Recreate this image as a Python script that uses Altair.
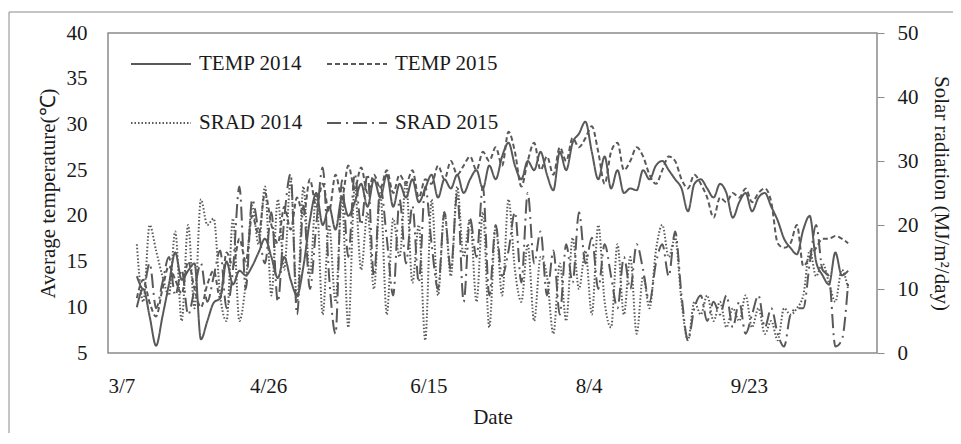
import altair as alt
import pandas as pd

# ---- data, one value every 2 days from 3/16 ----
start_date = "2014-03-16"
temp_2014 = [10.0, 12.0, 9.0, 5.8, 9.0, 12.5, 16.0, 13.0, 14.0, 14.8,
             6.5, 8.5, 10.5, 11.0, 15.0, 12.5, 14.0, 13.5, 14.5, 16.0,
             17.5, 15.5, 13.2, 15.5, 13.0, 11.3, 14.5, 19.5, 22.5, 19.0,
             21.0, 18.5, 22.0, 20.0, 21.5, 23.5, 21.0, 24.0, 22.0, 24.5,
             21.0, 23.5, 22.0, 24.0, 21.5, 23.0, 24.5, 22.0, 24.0, 23.0,
             24.5, 22.5, 24.0, 25.0, 23.0, 25.5, 24.0, 26.5, 28.0, 25.5,
             24.0, 26.0, 25.0, 27.0, 24.5, 22.8, 27.0, 25.0, 28.0, 29.0,
             30.3, 27.0, 24.0, 26.5, 23.0, 25.0, 22.5, 23.0, 22.8, 25.0,
             24.0, 25.5, 26.0, 25.0, 24.0, 23.0, 20.5, 23.5, 24.0, 23.0,
             22.0, 23.5, 22.5, 19.8, 21.5, 22.5, 20.5, 22.0, 22.5, 21.0,
             19.5, 17.5, 16.5, 15.8, 18.5, 20.0, 15.0, 13.5, 12.5, 16.0,
             13.5, 14.0]
temp_2015 = [11.0, 13.0, 10.5, 9.0, 12.0, 14.5, 13.0, 11.5, 15.0, 12.0,
             10.0, 12.5, 14.0, 11.0, 16.0, 14.5, 17.5, 15.0, 20.0, 18.0,
             22.5, 19.0, 17.0, 21.0, 18.5, 22.0, 20.0, 24.0, 21.0, 23.5,
             20.5, 24.5, 22.0, 25.5, 23.0, 25.3, 22.5, 24.5, 23.0, 25.0,
             22.5, 24.5, 23.5, 25.0, 22.0, 24.0, 23.5, 25.5, 24.0, 26.0,
             24.5, 25.5, 26.5, 25.0, 27.0, 26.0, 27.5, 25.5, 29.2, 27.0,
             23.2, 26.0, 28.0, 25.0, 26.5, 24.5, 27.5, 26.0, 28.5, 27.5,
             28.5, 29.8, 27.0, 23.5, 27.0, 28.0, 25.0, 26.0, 27.5, 26.5,
             24.5, 23.5, 25.0, 26.5, 26.0, 24.0, 23.0, 24.5, 23.5, 22.0,
             19.8, 22.0, 21.5, 22.5, 22.0, 23.0, 21.5, 22.5, 23.0, 21.5,
             17.0, 16.5, 17.0, 19.0, 14.5, 15.5, 16.5, 17.5, 17.5, 17.8,
             17.5, 17.0]
srad_2014 = [17, 8, 20, 16, 12, 9, 19, 5, 20, 7,
             24, 20, 21, 9, 5, 21, 5, 11, 23, 17,
             26, 9, 24, 13, 27, 8, 26, 12, 25, 6,
             20, 8, 24, 4, 26, 13, 22, 10, 25, 6,
             21, 15, 27, 11, 20, 2, 24, 9, 22, 12,
             26, 15, 21, 8, 22, 4, 20, 9, 24, 13,
             8, 17, 5, 15, 12, 3, 14, 5, 18, 10,
             16, 6, 20, 8, 4, 17, 6, 15, 3, 12,
             7, 16, 20, 15, 18, 8, 2, 8, 6, 9,
             5, 8, 4, 7, 5, 9, 4, 7, 3, 5,
             2, 7, 6, 7, 9, 16, 12, 14, 11, 8,
             13, 10]
srad_2015 = [12, 10, 14, 7, 11, 15, 9, 13, 6, 10,
             14, 8, 12, 16, 7, 13, 26, 10, 24, 19,
             14, 22, 8, 21, 28, 6, 23, 10, 20, 29,
             12, 3, 27, 15, 28, 20, 28, 12, 26, 18,
             9, 24, 14, 23, 11, 26, 17, 10, 22, 13,
             25, 8, 21, 15, 26, 9, 20, 12, 16, 22,
             11, 25, 14, 19, 9, 16, 6, 17, 11, 22,
             14, 18, 10, 17, 12, 7, 15, 10, 17, 13,
             8, 14, 17, 12, 19, 9, 2, 7, 9, 5,
             8, 6, 9, 4, 8, 3, 6, 9, 4, 7,
             3, 1, 6, 7, 7, 14, 20, 13, 12, 1,
             2, 11]

series_names = ["TEMP 2014", "TEMP 2015", "SRAD 2014", "SRAD 2015"]
x_tick_dates = [(3, 7), (4, 26), (6, 15), (8, 4), (9, 23)]

n = len(temp_2014)
dates = list(pd.date_range(start_date, periods=n, freq="2D"))

temp_df = pd.DataFrame({
    "date": dates + dates,
    "value": temp_2014 + temp_2015,
    "series": ["TEMP 2014"] * n + ["TEMP 2015"] * n,
})
srad_df = pd.DataFrame({
    "date": dates + dates,
    "value": srad_2014 + srad_2015,
    "series": ["SRAD 2014"] * n + ["SRAD 2015"] * n,
})

FONT = "Liberation Serif"
GRAY = "#595959"
FRAME = "#8a8a8a"

dash = alt.StrokeDash(
    "series:N",
    scale=alt.Scale(domain=series_names,
                    range=[[1, 0], [5, 3], [1.5, 2], [14, 5, 2, 5]]),
    legend=alt.Legend(
        title=None, orient="none", legendX=22, legendY=0, columns=2,
        direction="horizontal",
        symbolType="stroke", symbolSize=3600, symbolStrokeWidth=2,
        symbolStrokeColor=GRAY, labelFont=FONT, labelFontSize=21,
        labelColor="#1a1a1a", labelOffset=7, columnPadding=20,
        rowPadding=18, padding=0,
    ),
)

x_enc = alt.X(
    "date:T",
    scale=alt.Scale(domain=[alt.DateTime(year=2014, month=3, date=7),
                            alt.DateTime(year=2014, month=11, date=2)]),
    axis=alt.Axis(
        values=[alt.DateTime(year=2014, month=m, date=d) for m, d in x_tick_dates],
        format="%-m/%-d", title="Date", ticks=False, domain=False, grid=False,
        labelPadding=22, titlePadding=10,
    ),
)

temp_layer = alt.Chart(temp_df).mark_line(
    color=GRAY, strokeWidth=2, interpolate="monotone"
).encode(
    x=x_enc,
    y=alt.Y("value:Q", scale=alt.Scale(domain=[5, 40], nice=False),
            axis=alt.Axis(values=[5, 10, 15, 20, 25, 30, 35, 40],
                          title="Average temperature(℃)", ticks=False,
                          domain=False, grid=False,
                          labelPadding=21, titlePadding=8)),
    strokeDash=dash,
)

srad_layer = alt.Chart(srad_df).mark_line(
    color=GRAY, strokeWidth=2, interpolate="monotone"
).encode(
    x=x_enc,
    y=alt.Y("value:Q", scale=alt.Scale(domain=[0, 50], nice=False),
            axis=alt.Axis(orient="right", values=[0, 10, 20, 30, 40, 50],
                          title="Solar radiation (MJ/m²/day)", ticks=True,
                          tickSize=7, tickColor=FRAME, domain=False, grid=False,
                          labelPadding=13, titlePadding=12)),
    strokeDash=dash,
)

frame = alt.Chart(pd.DataFrame({"f": [0]})).mark_rect(
    filled=False, stroke=FRAME, strokeWidth=1
).encode(
    x=alt.value(-99), x2=alt.value(900), y=alt.value(-21), y2=alt.value(460)
)

chart = alt.layer(frame, temp_layer, srad_layer).resolve_scale(
    y="independent"
).properties(
    width=769, height=320,
    autosize=alt.AutoSizeParams(type="none"),
    padding={"left": 100, "top": 25, "right": 76, "bottom": 80},
    background="white",
).configure_view(
    stroke=FRAME, strokeWidth=1.5
).configure_axis(
    grid=False, labelFont=FONT, labelFontSize=21, labelColor="#1a1a1a",
    titleFont=FONT, titleFontSize=21, titleColor="#1a1a1a",
    titleFontWeight="normal",
)

chart.save("out.html", embed_options={"renderer": "svg", "actions": False})
